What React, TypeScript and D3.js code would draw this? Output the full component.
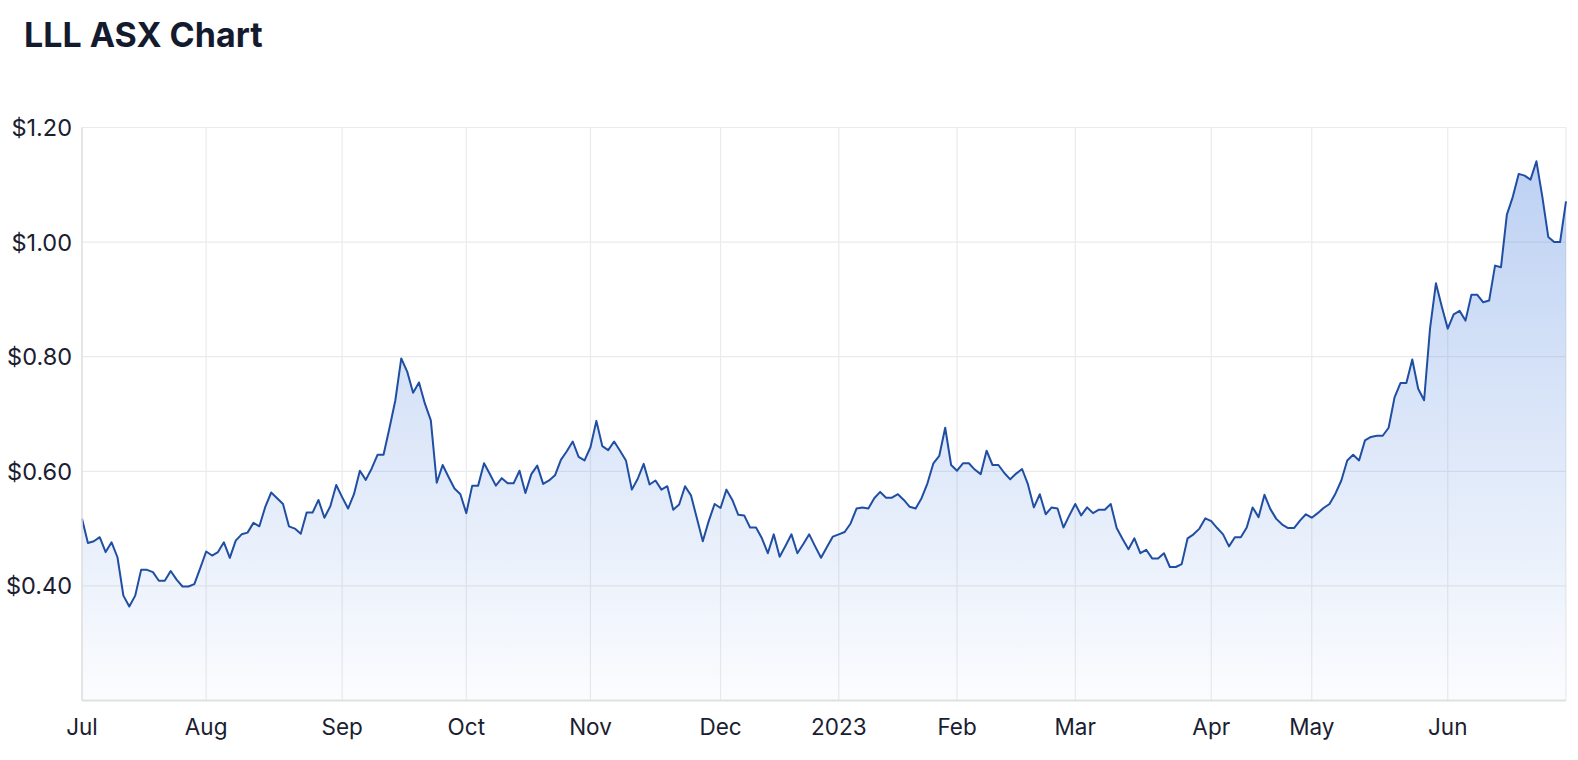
import React from "react";
import * as d3 from "d3";

// Daily closing prices (A$) per month, trading days only
const jul22 = [0.517, 0.475, 0.478, 0.485, 0.459, 0.476, 0.450, 0.383, 0.364, 0.383, 0.428, 0.428, 0.424, 0.409, 0.409, 0.426, 0.411, 0.399, 0.399, 0.403, 0.431];
const aug22 = [0.460, 0.453, 0.459, 0.476, 0.449, 0.479, 0.490, 0.493, 0.510, 0.504, 0.538, 0.563, 0.553, 0.543, 0.504, 0.500, 0.491, 0.528, 0.528, 0.550, 0.519, 0.539, 0.576];
const sep22 = [0.555, 0.535, 0.560, 0.601, 0.585, 0.605, 0.629, 0.629, 0.675, 0.724, 0.797, 0.774, 0.737, 0.755, 0.718, 0.689, 0.580, 0.611, 0.590, 0.570, 0.560];
const oct22 = [0.527, 0.575, 0.575, 0.614, 0.595, 0.575, 0.588, 0.579, 0.579, 0.601, 0.562, 0.595, 0.610, 0.578, 0.584, 0.593, 0.620, 0.635, 0.652, 0.625, 0.619];
const nov22 = [0.642, 0.688, 0.644, 0.637, 0.652, 0.636, 0.619, 0.568, 0.587, 0.613, 0.577, 0.584, 0.568, 0.574, 0.533, 0.542, 0.574, 0.558, 0.518, 0.478, 0.513, 0.543];
const dec22 = [0.536, 0.568, 0.550, 0.524, 0.523, 0.502, 0.502, 0.483, 0.457, 0.490, 0.451, 0.470, 0.490, 0.457, 0.473, 0.490, 0.469, 0.449, 0.468, 0.486];
const jan23 = [0.490, 0.494, 0.509, 0.535, 0.537, 0.535, 0.553, 0.564, 0.554, 0.554, 0.560, 0.550, 0.538, 0.535, 0.553, 0.579, 0.614, 0.627, 0.676, 0.611];
const feb23 = [0.601, 0.614, 0.614, 0.603, 0.595, 0.636, 0.611, 0.611, 0.597, 0.586, 0.596, 0.604, 0.577, 0.537, 0.560, 0.525, 0.537, 0.535, 0.502, 0.523];
const mar23 = [0.543, 0.523, 0.537, 0.527, 0.533, 0.533, 0.543, 0.501, 0.482, 0.464, 0.483, 0.457, 0.463, 0.448, 0.448, 0.457, 0.433, 0.433, 0.438, 0.483, 0.490, 0.500, 0.518];
const apr23 = [0.513, 0.501, 0.490, 0.469, 0.485, 0.485, 0.502, 0.537, 0.520, 0.559, 0.534, 0.517, 0.507, 0.501, 0.501, 0.514, 0.525];
const may23 = [0.519, 0.527, 0.536, 0.543, 0.561, 0.584, 0.619, 0.629, 0.619, 0.654, 0.660, 0.662, 0.662, 0.676, 0.729, 0.754, 0.754, 0.795, 0.744, 0.724, 0.849, 0.928, 0.887];
const jun23 = [0.849, 0.874, 0.880, 0.863, 0.908, 0.908, 0.895, 0.898, 0.959, 0.956, 1.048, 1.079, 1.119, 1.116, 1.109, 1.141, 1.079, 1.009, 1.000, 1.000, 1.071];

const monthSeries = [jul22, aug22, sep22, oct22, nov22, dec22, jan23, feb23, mar23, apr23, may23, jun23];
const monthLabels = ["Jul", "Aug", "Sep", "Oct", "Nov", "Dec", "2023", "Feb", "Mar", "Apr", "May", "Jun"];
const yTicks = [0.4, 0.6, 0.8, 1.0, 1.2];
const yDomain = [0.2, 1.2];
const title = "LLL ASX Chart";

const values: number[] = monthSeries.flat();
const monthStarts: number[] = [];
{
  let acc = 0;
  for (const m of monthSeries) {
    monthStarts.push(acc);
    acc += m.length;
  }
}

const W = 1578;
const H = 760;
const left = 82;
const right = 1566;
const top = 127.5;
const bottom = 700.5;
const FONT = "Inter, 'Noto Sans', 'Liberation Sans', sans-serif";

export default function App() {
  const x = d3.scaleLinear().domain([0, values.length - 1]).range([left, right]);
  const y = d3.scaleLinear().domain(yDomain).range([bottom, top]);
  const pts = values.map((v, i) => [i, v] as [number, number]);
  const line = d3.line<[number, number]>().x((d) => x(d[0])).y((d) => y(d[1]));
  const area = d3
    .area<[number, number]>()
    .x((d) => x(d[0]))
    .y0(bottom)
    .y1((d) => y(d[1]));

  return (
    <svg
      width={W}
      height={H}
      style={{ position: "absolute", left: 0, top: 0, display: "block", background: "#fff" }}
    >
      <defs>
        <linearGradient id="fillGrad" x1="0" y1={top} x2="0" y2={bottom} gradientUnits="userSpaceOnUse">
          <stop offset="0%" stopColor="#3d78dc" stopOpacity={0.36} />
          <stop offset="100%" stopColor="#3d78dc" stopOpacity={0.02} />
        </linearGradient>
      </defs>
      <text x={24} y={47} fontFamily={FONT} fontWeight={700} fontSize={34} fill="#151b2e">
        {title}
      </text>

      {/* horizontal gridlines */}
      {yTicks.map((t) => (
        <line key={"gy" + t} x1={left} x2={right} y1={y(t)} y2={y(t)} stroke="#ebebeb" strokeWidth={1.2} />
      ))}
      {/* vertical gridlines */}
      {monthStarts.map((s, k) => (
        <line key={"gx" + k} x1={x(s)} x2={x(s)} y1={top} y2={bottom} stroke="#ebebeb" strokeWidth={1.2} />
      ))}
      <line x1={right} x2={right} y1={top} y2={bottom} stroke="#ebebeb" strokeWidth={1.2} />

      <path d={area(pts) || ""} fill="url(#fillGrad)" />
      <path d={line(pts) || ""} fill="none" stroke="#1f4ea3" strokeWidth={2} strokeLinejoin="round" />

      {/* axes lines */}
      <line x1={left} x2={left} y1={top} y2={bottom} stroke="#e0e0e0" strokeWidth={1.5} />
      <line x1={left} x2={right} y1={bottom} y2={bottom} stroke="#e0e0e0" strokeWidth={2} />

      {yTicks.map((t) => (
        <text
          key={"ly" + t}
          x={72}
          y={y(t) + 8.5}
          textAnchor="end"
          fontFamily={FONT}
          fontSize={23.5}
          fill="#1a2030"
        >
          {"$" + d3.format(".2f")(t)}
        </text>
      ))}
      {monthStarts.map((s, k) => (
        <text
          key={"lx" + k}
          x={x(s)}
          y={735}
          textAnchor="middle"
          fontFamily={FONT}
          fontSize={22.5}
          fill="#1a2030"
        >
          {monthLabels[k]}
        </text>
      ))}
    </svg>
  );
}
